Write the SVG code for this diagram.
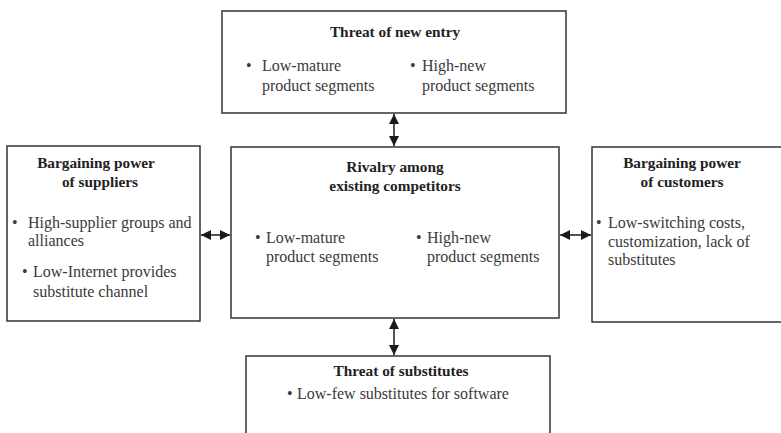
<svg xmlns="http://www.w3.org/2000/svg" width="781" height="433" viewBox="0 0 781 433">
  <defs>
    <marker id="head" viewBox="0 0 10 10" refX="10" refY="5" markerWidth="10" markerHeight="10" markerUnits="userSpaceOnUse" orient="auto-start-reverse">
      <path d="M0,0 L10,5 L0,10 Z" fill="#1a1a1a"/>
    </marker>
  </defs>
  <style>
    .box { fill: #ffffff; stroke: #333333; stroke-width: 1.5; }
    .title { font-family: "Liberation Serif", serif; font-size: 15.3px; font-weight: bold; fill: #222222; text-anchor: middle; }
    .body { font-family: "Liberation Serif", serif; font-size: 16px; fill: #3a3a3a; }
    .link { stroke: #1a1a1a; stroke-width: 1.5; fill: none; marker-start: url(#head); marker-end: url(#head); }
  </style>
  <rect width="781" height="433" fill="#ffffff"/>

  <g id="connectors">
    <line class="link" x1="394" y1="114" x2="394" y2="146"/>
    <line class="link" x1="394" y1="319" x2="394" y2="355"/>
    <line class="link" x1="201" y1="235" x2="230" y2="235"/>
    <line class="link" x1="560" y1="235" x2="591" y2="235"/>
  </g>

  <g id="new-entry">
    <rect class="box" x="222" y="11" width="344" height="102"/>
    <text class="title" x="395" y="37">Threat of new entry</text>
    <text class="body" x="246" y="71">•</text>
    <text class="body" x="262" y="71">Low-mature</text>
    <text class="body" x="262" y="91">product segments</text>
    <text class="body" x="410" y="71">•</text>
    <text class="body" x="422" y="71">High-new</text>
    <text class="body" x="422" y="91">product segments</text>
  </g>

  <g id="suppliers">
    <rect class="box" x="7" y="146" width="193" height="175"/>
    <text class="title" x="96" y="168">Bargaining power</text>
    <text class="title" x="100" y="187">of suppliers</text>
    <text class="body" x="12" y="228">•</text>
    <text class="body" x="28" y="228">High-supplier groups and</text>
    <text class="body" x="28" y="246">alliances</text>
    <text class="body" x="22" y="277">•</text>
    <text class="body" x="33" y="277">Low-Internet provides</text>
    <text class="body" x="33" y="297">substitute channel</text>
  </g>

  <g id="rivalry">
    <rect class="box" x="231" y="147" width="328" height="171"/>
    <text class="title" x="395" y="172">Rivalry among</text>
    <text class="title" x="395" y="191">existing competitors</text>
    <text class="body" x="255" y="243">•</text>
    <text class="body" x="266" y="243">Low-mature</text>
    <text class="body" x="266" y="262">product segments</text>
    <text class="body" x="416" y="243">•</text>
    <text class="body" x="427" y="243">High-new</text>
    <text class="body" x="427" y="262">product segments</text>
  </g>

  <g id="customers">
    <rect class="box" x="592" y="147" width="200" height="175"/>
    <text class="title" x="682" y="168">Bargaining power</text>
    <text class="title" x="682" y="187">of customers</text>
    <text class="body" x="596" y="228">•</text>
    <text class="body" x="608" y="228">Low-switching costs,</text>
    <text class="body" x="608" y="247">customization, lack of</text>
    <text class="body" x="608" y="265">substitutes</text>
  </g>

  <g id="substitutes">
    <rect class="box" x="246" y="356" width="304" height="90"/>
    <text class="title" x="401" y="376">Threat of substitutes</text>
    <text class="body" x="287" y="399">•</text>
    <text class="body" x="297" y="399">Low-few substitutes for software</text>
  </g>
</svg>
